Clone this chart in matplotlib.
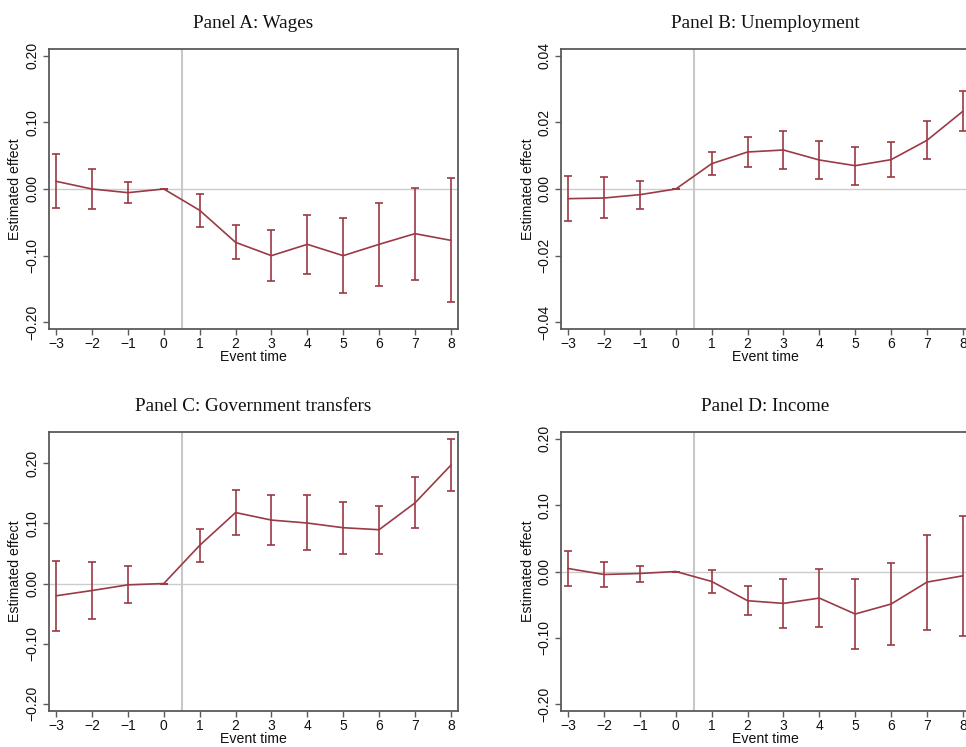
import matplotlib
matplotlib.use("Agg")
import matplotlib.pyplot as plt

# Event time (common to all panels)
event_time = [-3, -2, -1, 0, 1, 2, 3, 4, 5, 6, 7, 8]

# Panel A: Wages
wages_est = [0.0115, 0.0, -0.0055, 0.0, -0.032, -0.080, -0.100, -0.083, -0.100, -0.083, -0.067, -0.077]
wages_hi = [0.052, 0.030, 0.0105, 0.0, -0.007, -0.0546, -0.0617, -0.0386, -0.044, -0.021, 0.002, 0.016]
wages_lo = [-0.029, -0.030, -0.0215, 0.0, -0.0576, -0.105, -0.138, -0.127, -0.156, -0.145, -0.136, -0.170]

# Panel B: Unemployment
unemp_est = [-0.0029, -0.0027, -0.0017, 0.0, 0.0076, 0.0111, 0.0117, 0.0087, 0.0070, 0.0088, 0.0146, 0.0233]
unemp_hi = [0.0040, 0.0035, 0.0025, 0.0, 0.0111, 0.0157, 0.0175, 0.0145, 0.0127, 0.0141, 0.0203, 0.0293]
unemp_lo = [-0.0097, -0.0088, -0.0061, 0.0, 0.0041, 0.0066, 0.0060, 0.0030, 0.0013, 0.0035, 0.0091, 0.0174]

# Panel C: Government transfers
transf_est = [-0.0204, -0.0116, -0.0022, 0.0, 0.0635, 0.118, 0.1055, 0.1006, 0.0928, 0.0895, 0.134, 0.1967]
transf_hi = [0.0376, 0.0354, 0.0287, 0.0, 0.0912, 0.156, 0.147, 0.1464, 0.136, 0.129, 0.1768, 0.240]
transf_lo = [-0.079, -0.059, -0.0326, 0.0, 0.0354, 0.0812, 0.064, 0.0552, 0.0497, 0.0486, 0.0917, 0.1536]

# Panel D: Income
income_est = [0.0045, -0.0045, -0.003, 0.0, -0.015, -0.044, -0.048, -0.040, -0.064, -0.049, -0.016, -0.0065]
income_hi = [0.031, 0.014, 0.008, 0.0, 0.0025, -0.022, -0.0115, 0.0045, -0.0115, 0.0125, 0.055, 0.084]
income_lo = [-0.022, -0.024, -0.0155, 0.0, -0.033, -0.066, -0.085, -0.083, -0.117, -0.111, -0.088, -0.097]

titles = ["Panel A: Wages", "Panel B: Unemployment",
          "Panel C: Government transfers", "Panel D: Income"]

W, H = 966, 747
LINE_COLOR = "#9b3a45"
FRAME_COLOR = "#5a5a5a"


def px_axes(fig, left, top, right, bottom):
    '''Add axes given pixel edges of the figure.'''
    return fig.add_axes([left / W, (H - bottom) / H, (right - left) / W, (bottom - top) / H])


def draw_panel(ax, title, est, lo, hi, yticks, ylim):
    yerr = [[e - l for e, l in zip(est, lo)], [h - e for e, h in zip(est, hi)]]
    ax.axhline(0, color="#cccccc", lw=1.0, zorder=1)
    ax.axvline(0.5, color="#c8c8c8", lw=1.5, zorder=1)
    ax.errorbar(event_time, est, yerr=yerr, color=LINE_COLOR, lw=1.2,
                elinewidth=1.2, capsize=2.6, capthick=1.2, zorder=3)
    ax.set_xlim(-3.2, 8.2)
    ax.set_ylim(*ylim)
    ax.set_xticks(event_time)
    ax.set_yticks(yticks)
    ax.set_yticklabels(["{:.2f}".format(t).replace("-", "\u2212") for t in yticks],
                       rotation=90, va="center")
    for side in ax.spines.values():
        side.set_color(FRAME_COLOR)
        side.set_linewidth(1.3)
    ax.tick_params(direction="out", length=4, width=1, color=FRAME_COLOR,
                   labelsize=10, pad=2, labelcolor="#111111")
    ax.tick_params(axis="y", pad=3)
    ax.set_xlabel("Event time", fontsize=10.2, labelpad=-1, color="#111111")
    ax.set_ylabel("Estimated effect", fontsize=10.2, labelpad=2, color="#111111")
    ax.set_title(title, fontsize=13.8, family="Liberation Serif", pad=15, color="#111111")


if __name__ == "__main__":
    plt.rcParams["font.family"] = ["Liberation Sans", "DejaVu Sans"]
    fig = plt.figure(figsize=(W / 100, H / 100), dpi=100)

    ax_a = px_axes(fig, 49, 49, 458, 329)
    ax_b = px_axes(fig, 561, 49, 970, 329)
    ax_c = px_axes(fig, 49, 432, 458, 711)
    ax_d = px_axes(fig, 561, 432, 970, 711)

    draw_panel(ax_a, titles[0], wages_est, wages_lo, wages_hi,
               [-0.2, -0.1, 0.0, 0.1, 0.2], (-0.21, 0.21))
    draw_panel(ax_b, titles[1], unemp_est, unemp_lo, unemp_hi,
               [-0.04, -0.02, 0.0, 0.02, 0.04], (-0.042, 0.042))
    draw_panel(ax_c, titles[2], transf_est, transf_lo, transf_hi,
               [-0.2, -0.1, 0.0, 0.1, 0.2], (-0.212, 0.252))
    draw_panel(ax_d, titles[3], income_est, income_lo, income_hi,
               [-0.2, -0.1, 0.0, 0.1, 0.2], (-0.21, 0.21))

    fig.savefig("out.png", dpi=100)
